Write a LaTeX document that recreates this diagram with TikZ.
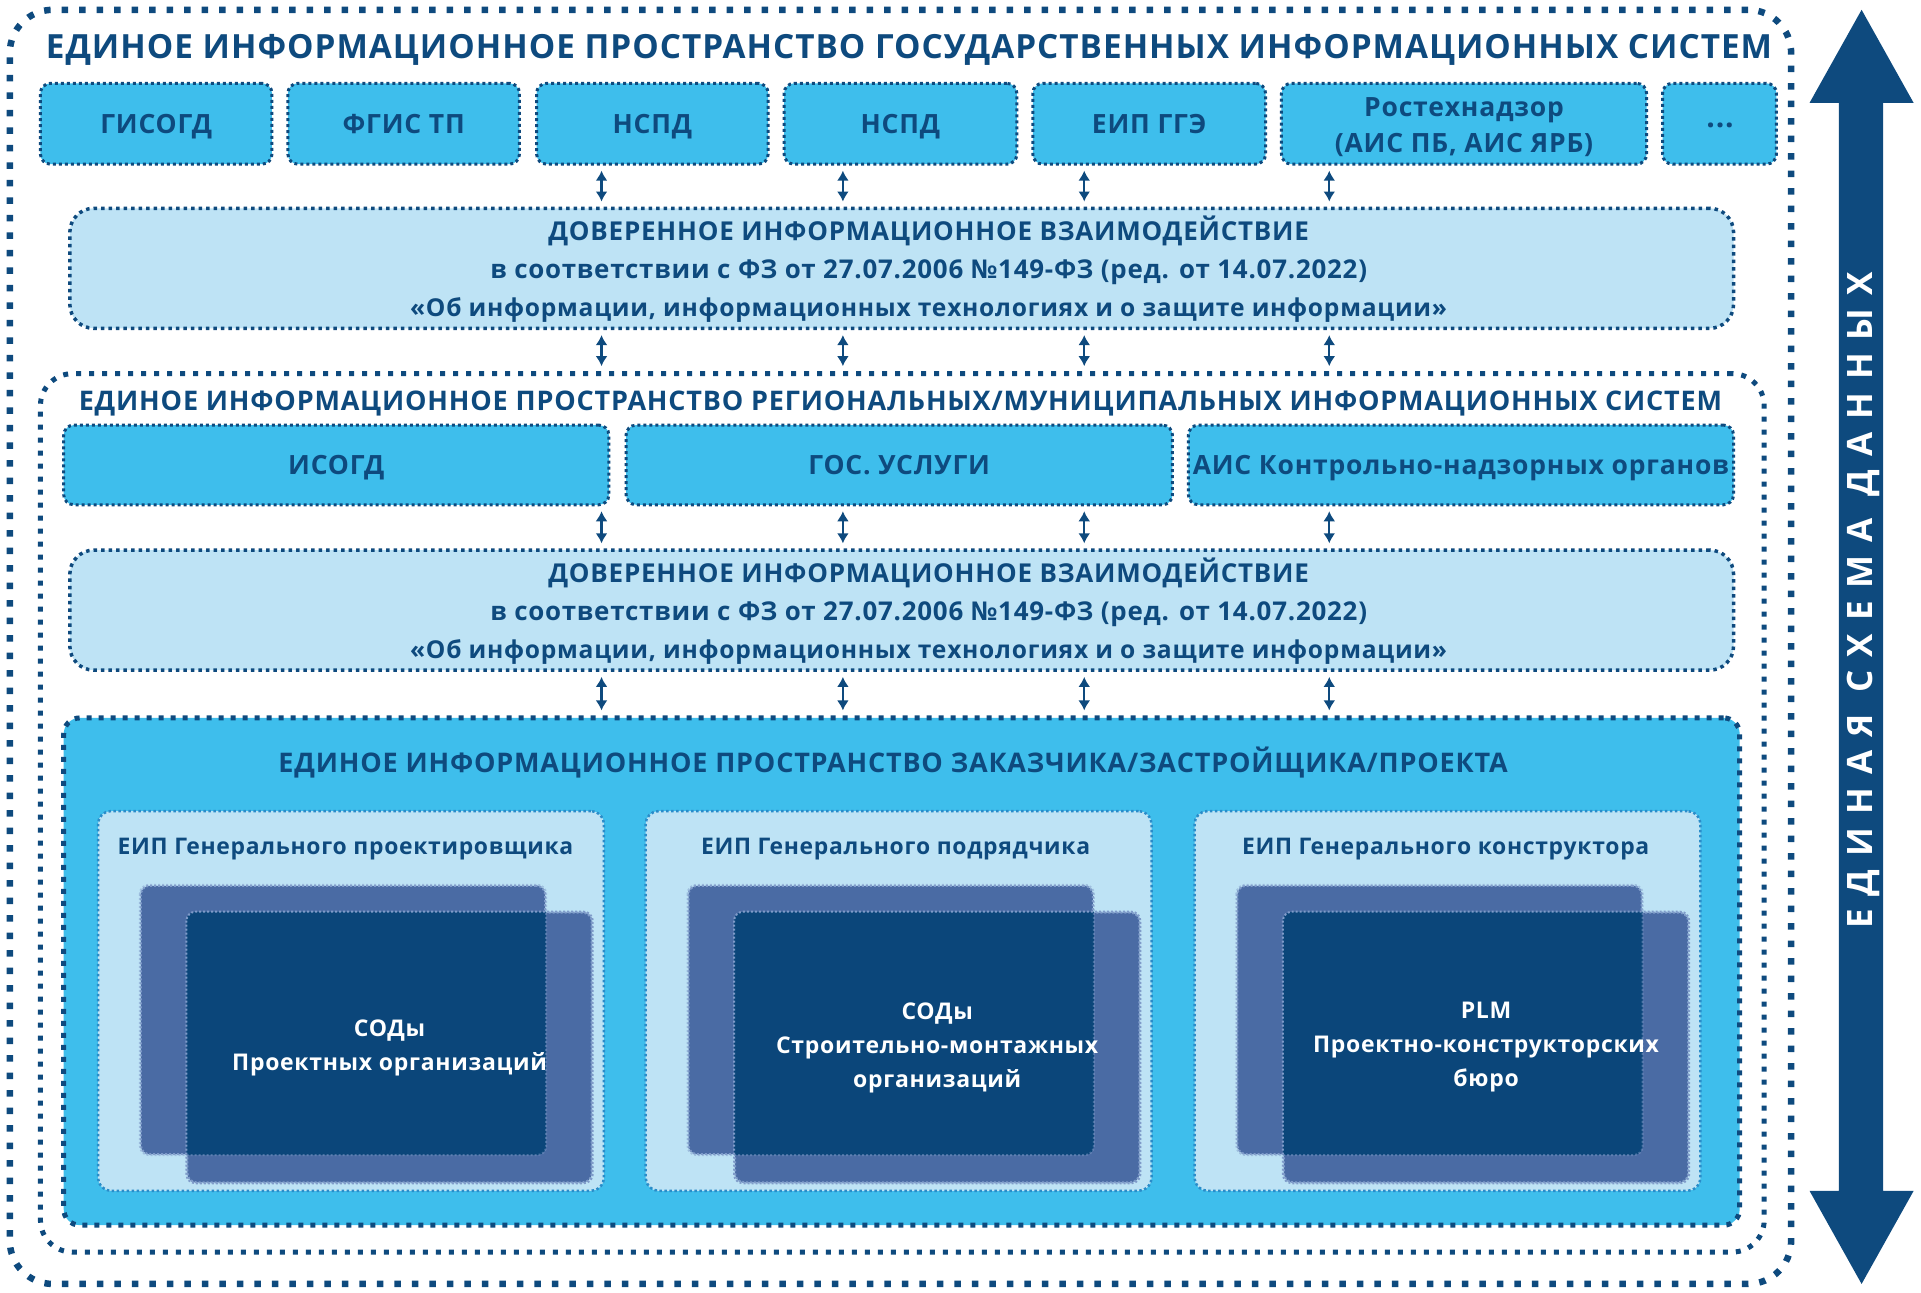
\documentclass[tikz,border=0pt]{standalone}
\usepackage{fontspec}
\usepackage{graphicx}
\setmainfont{Open Sans}
\newfontfamily\osb{Open Sans}[LetterSpace=3]
\newfontfamily\osv{Open Sans}[LetterSpace=37]
\usetikzlibrary{fit,arrows.meta}
\definecolor{navy}{HTML}{0E4A7E}
\definecolor{cyanb}{HTML}{3EBEEC}
\definecolor{paleb}{HTML}{BEE3F5}
\definecolor{midb}{HTML}{4A6BA4}
\definecolor{darkb}{HTML}{0B467A}
\definecolor{subb}{HTML}{2A8CC9}
\definecolor{rimb}{HTML}{7F9BC9}
\tikzset{
  ttl/.style={text=navy, inner sep=0pt},
  fA/.style={font=\osb\bfseries\fontsize{33.3pt}{38pt}\selectfont, text height=23.8pt, text depth=0pt},
  fB/.style={font=\osb\bfseries\fontsize{27pt}{32pt}\selectfont, text height=19.3pt, text depth=0pt},
  fC/.style={font=\osb\bfseries\fontsize{26.5pt}{36pt}\selectfont},
  capC/.style={text height=18.9pt, text depth=0pt},
  fD/.style={font=\osb\bfseries\fontsize{26pt}{38pt}\selectfont},
  fE/.style={font=\osb\bfseries\fontsize{22.9pt}{34pt}\selectfont},
  capE/.style={text height=16.4pt, text depth=0pt},
  btxt/.style={text=navy, align=center, inner sep=0pt, fC},
  cbox/.style={fill=cyanb, draw=navy, line width=3pt, dash pattern=on 3pt off 3pt,
    rounded corners=10pt, inner sep=0pt},
  dbox/.style={fill=paleb, draw=navy, line width=3.5pt, dash pattern=on 3.5pt off 4pt,
    rounded corners=24pt, inner sep=0pt},
  bigframe/.style={draw=navy, line width=6.5pt, dash pattern=on 6.5pt off 11pt,
    rounded corners=43pt, inner sep=0pt},
  regframe/.style={draw=navy, line width=5pt, dash pattern=on 5pt off 8pt,
    rounded corners=32pt, inner sep=0pt},
  bbox/.style={fill=cyanb, draw=navy, line width=5pt, dash pattern=on 5pt off 7pt,
    rounded corners=16pt, inner sep=0pt},
  sbox/.style={fill=paleb, draw=subb, line width=2.5pt, dash pattern=on 2.5pt off 2.5pt,
    rounded corners=13pt, inner sep=0pt},
  rbox/.style={fill=midb, draw=rimb, line width=2pt, dash pattern=on 2pt off 2pt,
    rounded corners=9pt, inner sep=0pt},
  rim/.style={draw=rimb, line width=2pt, dash pattern=on 2pt off 2pt, rounded corners=9pt},
  wtxt/.style={text=white, align=center, inner sep=0pt, font=\osb\bfseries\fontsize{23pt}{34pt}\selectfont},
  dbl/.style={draw=navy, line width=2.4pt,
    {Latex[length=10pt,width=12pt]}-{Latex[length=10pt,width=12pt]},
    shorten <=5pt, shorten >=5pt},
}
\newcommand{\lnA}{{\fontsize{26pt}{38pt}\selectfont ДОВЕРЕННОЕ ИНФОРМАЦИОННОЕ ВЗАИМОДЕЙСТВИЕ}}
\newcommand{\lnB}{{\fontsize{25.9pt}{38pt}\selectfont в соответствии с ФЗ от 27.07.2006 №149-ФЗ (ред. от 14.07.2022)}}
\newcommand{\lnC}{{\fontsize{24.6pt}{38pt}\selectfont «Об информации, информационных технологиях и о защите информации»}}
\begin{document}
\begin{tikzpicture}[x=1.2251pt, y=-1.2251pt]
\useasboundingbox (0,0) rectangle (1568,1055);

% outer frame
\node[bigframe, fit={(8,8) (1462,1048)}] (outer) {};
\node[ttl, fA] (t1) at (742,38) {ЕДИНОЕ ИНФОРМАЦИОННОЕ ПРОСТРАНСТВО ГОСУДАРСТВЕННЫХ ИНФОРМАЦИОННЫХ СИСТЕМ};

% top row
\node[cbox, fit={(33,68) (222,134)}] (g1) {};
\node[cbox, fit={(235,68) (424,134)}] (g2) {};
\node[cbox, fit={(438,68) (627,134)}] (g3) {};
\node[cbox, fit={(640,68) (830,134)}] (g4) {};
\node[cbox, fit={(843,68) (1033,134)}] (g5) {};
\node[cbox, fit={(1046,68) (1344,134)}] (g6) {};
\node[cbox, fit={(1357,68) (1450,134)}] (g7) {};
\node[btxt, capC] (g1t) at (g1.center) {ГИСОГД};
\node[btxt, capC] (g2t) at (g2.center) {ФГИС ТП};
\node[btxt, capC] (g3t) at (g3.center) {НСПД};
\node[btxt, capC] (g4t) at (g4.center) {НСПД};
\node[btxt, capC] (g5t) at (g5.center) {ЕИП ГГЭ};
\node[btxt, yshift=-3pt] (g6t) at (g6.center) {Ростехнадзор\\(АИС ПБ, АИС ЯРБ)};
\node[btxt, anchor=base, font=\osb\bfseries\fontsize{30pt}{36pt}\selectfont] (g7t) at (1404,104) {...};

% trusted interaction 1
\node[dbox, fit={(57,170) (1415,268)}] (d1) {};
\node[ttl, fD, align=center] (d1t) at (758,220) {\lnA\\\lnB\\\lnC};

% regional frame
\node[regframe, fit={(33,305) (1440,1022)}] (rf) {};
\node[ttl, fB] (t2) at (735,327) {ЕДИНОЕ ИНФОРМАЦИОННОЕ ПРОСТРАНСТВО РЕГИОНАЛЬНЫХ/МУНИЦИПАЛЬНЫХ ИНФОРМАЦИОННЫХ СИСТЕМ};
\node[cbox, fit={(52,347) (497,412)}] (r1) {};
\node[cbox, fit={(511,347) (957,412)}] (r2) {};
\node[cbox, fit={(970,347) (1415,412)}] (r3) {};
\node[btxt, capC] (r1t) at (r1.center) {ИСОГД};
\node[btxt, capC] (r2t) at (r2.center) {ГОС. УСЛУГИ};
\node[btxt, capC] (r3t) at (r3.center) {АИС Контрольно-надзорных органов};

% trusted interaction 2
\node[dbox, fit={(57,449) (1415,547)}] (d2) {};
\node[ttl, fD, align=center] (d2t) at (758,499) {\lnA\\\lnB\\\lnC};

% customer space
\node[bbox, fit={(52,586) (1420,1000)}] (bb) {};
\node[ttl, fB] (t3) at (729,623) {ЕДИНОЕ ИНФОРМАЦИОННОЕ ПРОСТРАНСТВО ЗАКАЗЧИКА/ЗАСТРОЙЩИКА/ПРОЕКТА};

\node[sbox, fit={(80,662) (493,972)}] (s1) {};
\node[sbox, fit={(527,662) (940,972)}] (s2) {};
\node[sbox, fit={(975,662) (1388,972)}] (s3) {};
\node[ttl, fE, capE] (st1) at (282,691) {ЕИП Генерального проектировщика};
\node[ttl, fE, capE] (st2) at (731,691) {ЕИП Генерального подрядчика};
\node[ttl, fE, capE] (st3) at (1180,691) {ЕИП Генерального конструктора};

% stacked rectangles
\foreach \i/\dx in {1/0, 2/447, 3/895} {
  \node[rbox, fit={(115+\dx,723) (445+\dx,942)}] (b\i) {};
  \node[rbox, fit={(153+\dx,745) (483+\dx,965)}] (f\i) {};
  \begin{scope}
    \clip[rounded corners=9pt] (b\i.north west) rectangle (b\i.south east);
    \fill[darkb, rounded corners=9pt] (f\i.north west) rectangle (f\i.south east);
  \end{scope}
  \draw[rim] (f\i.north west) rectangle (f\i.south east);
  \draw[rim, draw opacity=0.5] (b\i.north west) rectangle (b\i.south east);
}
\node[wtxt] (w1) at (318,855) {СОДы\\Проектных организаций};
\node[wtxt] (w2) at (f2.center) {СОДы\\Строительно-монтажных\\организаций};
\node[wtxt] (w3) at (f3.center) {PLM\\Проектно-конструкторских\\бюро};

% connectors
\foreach \n/\x in {1/491, 2/688, 3/885, 4/1085} {
  \coordinate (c\n) at (\x,0);
}
\draw[dbl] (c1 |- g3.south) -- (c1 |- d1.north);
\draw[dbl] (c2 |- g4.south) -- (c2 |- d1.north);
\draw[dbl] (c3 |- g5.south) -- (c3 |- d1.north);
\draw[dbl] (c4 |- g6.south) -- (c4 |- d1.north);
\draw[dbl] (c1 |- d1.south) -- (c1 |- rf.north);
\draw[dbl] (c2 |- d1.south) -- (c2 |- rf.north);
\draw[dbl] (c3 |- d1.south) -- (c3 |- rf.north);
\draw[dbl] (c4 |- d1.south) -- (c4 |- rf.north);
\draw[dbl] (c1 |- r1.south) -- (c1 |- d2.north);
\draw[dbl] (c2 |- r2.south) -- (c2 |- d2.north);
\draw[dbl] (c3 |- r2.south) -- (c3 |- d2.north);
\draw[dbl] (c4 |- r3.south) -- (c4 |- d2.north);
\draw[dbl] (c1 |- d2.south) -- (c1 |- bb.north);
\draw[dbl] (c2 |- d2.south) -- (c2 |- bb.north);
\draw[dbl] (c3 |- d2.south) -- (c3 |- bb.north);
\draw[dbl] (c4 |- d2.south) -- (c4 |- bb.north);

% big double arrow
\fill[navy] (1477,84) -- (1519.5,8) -- (1562,84) -- (1537,84) -- (1537,972)
  -- (1562,972) -- (1519.5,1048) -- (1477,972) -- (1501,972) -- (1501,84) -- cycle;
\node[text=white, rotate=90, inner sep=0pt, font=\osv\bfseries\fontsize{35pt}{38pt}\selectfont] (sch) at (1521,490) {ЕДИНАЯ СХЕМА ДАННЫХ};
\end{tikzpicture}
\end{document}
